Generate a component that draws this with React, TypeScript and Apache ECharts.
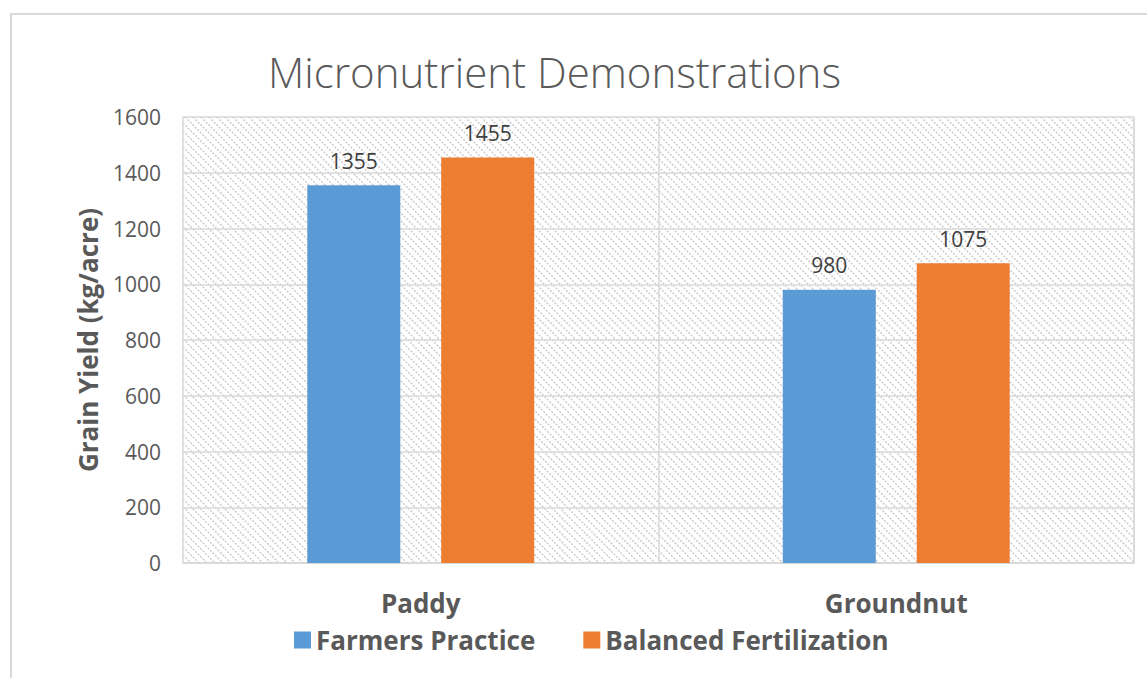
import React, { useEffect, useRef } from "react";
import * as echarts from "echarts";

const categories = ["Paddy", "Groundnut"];
const farmersPractice = [1355, 980];
const balancedFertilization = [1455, 1075];
const seriesNames = ["Farmers Practice", "Balanced Fertilization"];
const yTicks = { min: 0, max: 1600, interval: 200 };

const W = 1147;
const H = 678;
const GRID = { left: 183, right: 13, top: 117, bottom: 115 };
const FONT = "'Open Sans', 'Noto Sans', sans-serif";

function hatchLines() {
  const x0 = GRID.left;
  const y0 = GRID.top;
  const pw = W - GRID.left - GRID.right;
  const ph = H - GRID.top - GRID.bottom;
  const els: any[] = [];
  const step = 8;
  for (let c = -ph; c <= pw; c += step) {
    const t0 = Math.max(0, -c);
    const t1 = Math.min(ph, pw - c);
    if (t1 <= t0) continue;
    els.push({
      type: "line",
      silent: true,
      z: -10,
      shape: { x1: x0 + c + t0, y1: y0 + t0, x2: x0 + c + t1, y2: y0 + t1 },
      style: { stroke: "#cfcfcf", lineWidth: 1.6, lineDash: [2, 1.5] },
    });
  }
  return els;
}

export default function App() {
  const ref = useRef<HTMLDivElement>(null);
  useEffect(() => {
    if (!ref.current) return;
    const chart = echarts.init(ref.current, undefined, { renderer: "svg" });
    const labelStyle = {
      show: true,
      position: "top" as const,
      distance: 14,
      fontFamily: FONT,
      fontSize: 21,
      color: "#404040",
    };
    chart.setOption({
      animation: false,
      backgroundColor: "#ffffff",
      title: {
        text: "Micronutrient Demonstrations",
        left: 263,
        top: 45,
        textStyle: {
          fontFamily: FONT,
          fontWeight: 300,
          fontSize: 42,
          color: "#595959",
        },
      },
      legend: {
        data: seriesNames,
        left: 289,
        top: 622,
        icon: "rect",
        itemWidth: 17,
        itemHeight: 17,
        itemGap: 48,
        textStyle: {
          fontFamily: FONT,
          fontWeight: "bold",
          fontSize: 26,
          color: "#595959",
        },
      },
      grid: { ...GRID, containLabel: false },
      xAxis: {
        type: "category",
        data: categories,
        axisLine: { show: true, lineStyle: { color: "#d9d9d9", width: 2 } },
        axisTick: { show: false },
        splitLine: { show: true, lineStyle: { color: "#d9d9d9", width: 1.5 } },
        axisLabel: {
          margin: 27,
          fontFamily: FONT,
          fontWeight: "bold",
          fontSize: 26,
          color: "#595959",
        },
      },
      yAxis: {
        type: "value",
        min: yTicks.min,
        max: yTicks.max,
        interval: yTicks.interval,
        name: "Grain Yield (kg/acre)",
        nameLocation: "middle",
        nameGap: 82,
        nameTextStyle: {
          fontFamily: FONT,
          fontWeight: "bold",
          fontSize: 26,
          color: "#595959",
        },
        axisLine: { show: false },
        axisTick: { show: false },
        splitLine: { show: true, lineStyle: { color: "#d9d9d9", width: 1.5 } },
        axisLabel: {
          margin: 22,
          fontFamily: FONT,
          fontSize: 21,
          color: "#595959",
          formatter: (v: number) => String(v),
        },
      },
      graphic: [
        {
          type: "rect",
          silent: true,
          z: -20,
          shape: { x: 11, y: 14, width: 1300, height: 800 },
          style: { fill: "none", stroke: "#d9d9d9", lineWidth: 2 },
        },
        {
          type: "line",
          silent: true,
          z: -5,
          shape: { x1: W - GRID.right, y1: GRID.top, x2: W - GRID.right, y2: H - GRID.bottom },
          style: { stroke: "#d9d9d9", lineWidth: 1.5 },
        },
        ...hatchLines(),
      ],
      series: [
        {
          name: seriesNames[0],
          type: "bar",
          data: farmersPractice,
          barWidth: 93,
          barGap: "44%",
          itemStyle: { color: "#5B9BD5" },
          label: labelStyle,
        },
        {
          name: seriesNames[1],
          type: "bar",
          data: balancedFertilization,
          barWidth: 93,
          barGap: "44%",
          itemStyle: { color: "#ED7D31" },
          label: labelStyle,
        },
      ],
    });
    return () => chart.dispose();
  }, []);
  return (
    <div
      ref={ref}
      style={{ position: "fixed", left: 0, top: 0, width: W, height: H }}
    />
  );
}
